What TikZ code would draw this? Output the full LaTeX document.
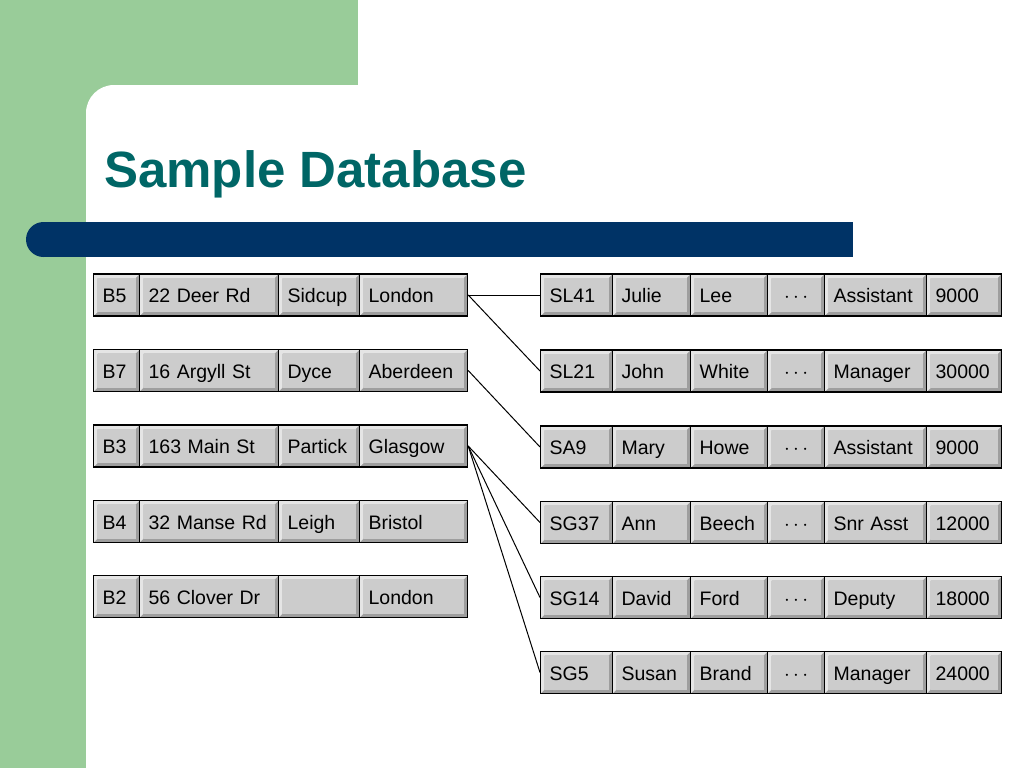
\documentclass[tikz,border=0pt]{standalone}
\usepackage{fontspec}
\setmainfont{Liberation Sans}
\usepackage{tikz}

\definecolor{slidegreen}{RGB}{153,204,153}
\definecolor{slidenavy}{RGB}{0,51,102}
\definecolor{slideteal}{RGB}{0,102,102}
\definecolor{celllight}{gray}{0.9}
\definecolor{cellmid}{gray}{0.8}
\definecolor{celldark}{gray}{0.62}

\tikzset{
  cell/.style={draw, line width=1.2pt, anchor=west, minimum height=42pt,
    inner xsep=9pt, text height=16pt, text depth=1pt, align=left,
    font=\fontsize{19.5}{22}\selectfont,
    path picture={
      \path (path picture bounding box.south west) coordinate (sw)
            (path picture bounding box.north east) coordinate (ne);
      \fill[celldark] (sw) rectangle (ne);
      \fill[celllight] (sw) -- (sw |- ne) -- (ne) -- ([shift={(-4pt,-4pt)}]ne)
        -- ([shift={(4pt,-4pt)}]sw |- ne) -- ([shift={(4pt,4pt)}]sw) -- cycle;
      \fill[cellmid] ([shift={(4pt,4pt)}]sw) rectangle ([shift={(-4pt,-4pt)}]ne);
    }},
  link/.style={line width=1pt}
}

\begin{document}
\begin{tikzpicture}[x=1pt,y=-1pt]
\useasboundingbox (0,0) rectangle (1024,768);

% slide background
\fill[slidegreen] (0,0) rectangle (358,85);
\fill[slidegreen] (0,0) rectangle (86,768);
\fill[slidegreen] (86,85) rectangle (114,113);
\fill[white] (114,113) circle[radius=28pt];
\fill[slidenavy] (43.5,222) rectangle (853,257);
\fill[slidenavy] (43.5,239.5) circle[radius=17.5pt];

\node[anchor=base west, inner sep=0pt, text=slideteal,
      font=\fontsize{51}{60}\selectfont\bfseries] (title) at (104,187) {Sample Database};

% branch table
\node[cell, text width=28pt]  (b5no)   at (93,295)  {B5};
\node[cell, text width=121pt] (b5st)   at (139,295) {22 Deer Rd};
\node[cell, text width=63pt]  (b5area) at (278,295) {Sidcup};
\node[cell, text width=90pt]  (b5city) at (359,295) {London};

\node[cell, text width=28pt]  (b7no)   at (93,370.5)  {B7};
\node[cell, text width=121pt] (b7st)   at (139,370.5) {16 Argyll St};
\node[cell, text width=63pt]  (b7area) at (278,370.5) {Dyce};
\node[cell, text width=90pt]  (b7city) at (359,370.5) {Aberdeen};

\node[cell, text width=28pt]  (b3no)   at (93,446)  {B3};
\node[cell, text width=121pt] (b3st)   at (139,446) {163 Main St};
\node[cell, text width=63pt]  (b3area) at (278,446) {Partick};
\node[cell, text width=90pt]  (b3city) at (359,446) {Glasgow};

\node[cell, text width=28pt]  (b4no)   at (93,521.5)  {B4};
\node[cell, text width=121pt] (b4st)   at (139,521.5) {32 Manse Rd};
\node[cell, text width=63pt]  (b4area) at (278,521.5) {Leigh};
\node[cell, text width=90pt]  (b4city) at (359,521.5) {Bristol};

\node[cell, text width=28pt]  (b2no)   at (93,596.5)  {B2};
\node[cell, text width=121pt] (b2st)   at (139,596.5) {56 Clover Dr};
\node[cell, text width=63pt]  (b2area) at (278,596.5) {};
\node[cell, text width=90pt]  (b2city) at (359,596.5) {London};

% staff table
\node[cell, text width=54pt] (sl41no)  at (540,295) {SL41};
\node[cell, text width=60pt] (sl41fn)  at (612,295) {Julie};
\node[cell, text width=59pt] (sl41ln)  at (690,295) {Lee};
\node[cell, text width=39pt, align=center] (sl41etc) at (767,295) {\(\cdots\)};
\node[cell, text width=84pt] (sl41pos) at (824,295) {Assistant};
\node[cell, text width=57pt] (sl41sal) at (926,295) {9000};

\node[cell, text width=54pt] (sl21no)  at (540,371) {SL21};
\node[cell, text width=60pt] (sl21fn)  at (612,371) {John};
\node[cell, text width=59pt] (sl21ln)  at (690,371) {White};
\node[cell, text width=39pt, align=center] (sl21etc) at (767,371) {\(\cdots\)};
\node[cell, text width=84pt] (sl21pos) at (824,371) {Manager};
\node[cell, text width=57pt] (sl21sal) at (926,371) {30000};

\node[cell, text width=54pt] (sa9no)  at (540,447) {SA9};
\node[cell, text width=60pt] (sa9fn)  at (612,447) {Mary};
\node[cell, text width=59pt] (sa9ln)  at (690,447) {Howe};
\node[cell, text width=39pt, align=center] (sa9etc) at (767,447) {\(\cdots\)};
\node[cell, text width=84pt] (sa9pos) at (824,447) {Assistant};
\node[cell, text width=57pt] (sa9sal) at (926,447) {9000};

\node[cell, text width=54pt] (sg37no)  at (540,522.5) {SG37};
\node[cell, text width=60pt] (sg37fn)  at (612,522.5) {Ann};
\node[cell, text width=59pt] (sg37ln)  at (690,522.5) {Beech};
\node[cell, text width=39pt, align=center] (sg37etc) at (767,522.5) {\(\cdots\)};
\node[cell, text width=84pt] (sg37pos) at (824,522.5) {Snr Asst};
\node[cell, text width=57pt] (sg37sal) at (926,522.5) {12000};

\node[cell, text width=54pt] (sg14no)  at (540,597.5) {SG14};
\node[cell, text width=60pt] (sg14fn)  at (612,597.5) {David};
\node[cell, text width=59pt] (sg14ln)  at (690,597.5) {Ford};
\node[cell, text width=39pt, align=center] (sg14etc) at (767,597.5) {\(\cdots\)};
\node[cell, text width=84pt] (sg14pos) at (824,597.5) {Deputy};
\node[cell, text width=57pt] (sg14sal) at (926,597.5) {18000};

\node[cell, text width=54pt] (sg5no)  at (540,672.5) {SG5};
\node[cell, text width=60pt] (sg5fn)  at (612,672.5) {Susan};
\node[cell, text width=59pt] (sg5ln)  at (690,672.5) {Brand};
\node[cell, text width=39pt, align=center] (sg5etc) at (767,672.5) {\(\cdots\)};
\node[cell, text width=84pt] (sg5pos) at (824,672.5) {Manager};
\node[cell, text width=57pt] (sg5sal) at (926,672.5) {24000};

% links from branch to staff
\draw[link] (b5city.east) -- (sl41no.west);
\draw[link] (b5city.east) -- (sl21no.west);
\draw[link] (b7city.east) -- (sa9no.west);
\draw[link] (b3city.east) -- (sg37no.west);
\draw[link] (b3city.east) -- (sg14no.west);
\draw[link] (b3city.east) -- (sg5no.west);
\end{tikzpicture}
\end{document}
